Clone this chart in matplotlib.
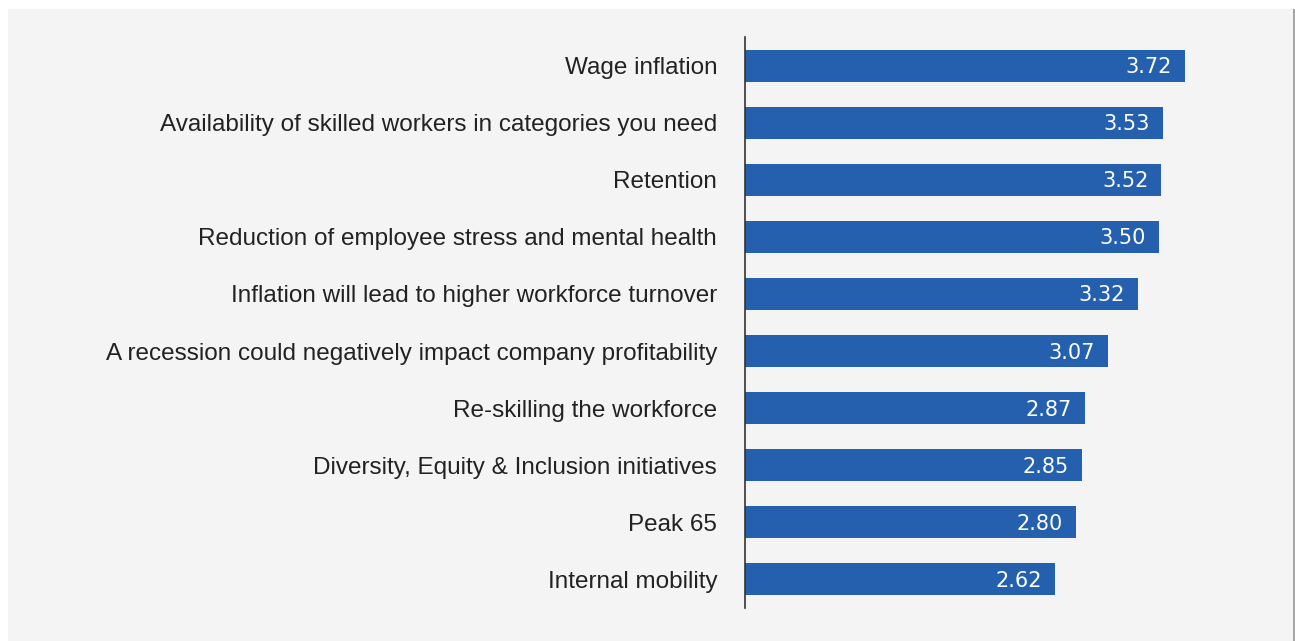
import matplotlib
matplotlib.use("Agg")
import matplotlib.pyplot as plt
from matplotlib.patches import Rectangle

categories = [
    "Wage inflation",
    "Availability of skilled workers in categories you need",
    "Retention",
    "Reduction of employee stress and mental health",
    "Inflation will lead to higher workforce turnover",
    "A recession could negatively impact company profitability",
    "Re-skilling the workforce",
    "Diversity, Equity & Inclusion initiatives",
    "Peak 65",
    "Internal mobility",
]
scores = [3.72, 3.53, 3.52, 3.50, 3.32, 3.07, 2.87, 2.85, 2.80, 2.62]

W, H = 1295, 641
fig = plt.figure(figsize=(W / 100, H / 100), dpi=100)
fig.patch.set_facecolor("white")

# light grey panel behind the chart
fig.patches.append(Rectangle((8 / W, 0), (1293 - 8) / W, (H - 9) / H,
                             transform=fig.transFigure, facecolor="#f4f4f4",
                             edgecolor="none", zorder=-10))
fig.patches.append(Rectangle((1293 / W, 0), 2 / W, (H - 9) / H,
                             transform=fig.transFigure, facecolor="#a6a6a6",
                             edgecolor="none", zorder=-10))

left, right = 745 / W, 1293 / W
bottom, top = (H - 608) / H, (H - 37) / H
ax = fig.add_axes([left, bottom, right - left, top - bottom])
ax.set_facecolor("none")
ax.set_zorder(5)

y = list(range(len(categories)))
ax.barh(y, scores, height=0.56, color="#2460ae", zorder=2)
ax.set_ylim(len(categories) - 0.5, -0.5)
ax.set_xlim(0, (1293 - 745) / 118.3)

for yi, v in zip(y, scores):
    ax.annotate(f"{v:.2f}", xy=(v, yi), xytext=(-13, -1.5), textcoords="offset pixels",
                ha="right", va="center", color="white", fontsize=15,
                fontfamily="DejaVu Sans", zorder=3)

ax.set_yticks(y)
ax.set_yticklabels(categories, fontsize=17.5, fontfamily="Liberation Sans", color="#222222")
ax.tick_params(axis="y", length=0, pad=20)
ax.set_xticks([])
for s in ["top", "right", "bottom"]:
    ax.spines[s].set_visible(False)
ax.spines["left"].set_color("#333333")
ax.spines["left"].set_linewidth(1.2)

fig.savefig("out.png", dpi=100)
